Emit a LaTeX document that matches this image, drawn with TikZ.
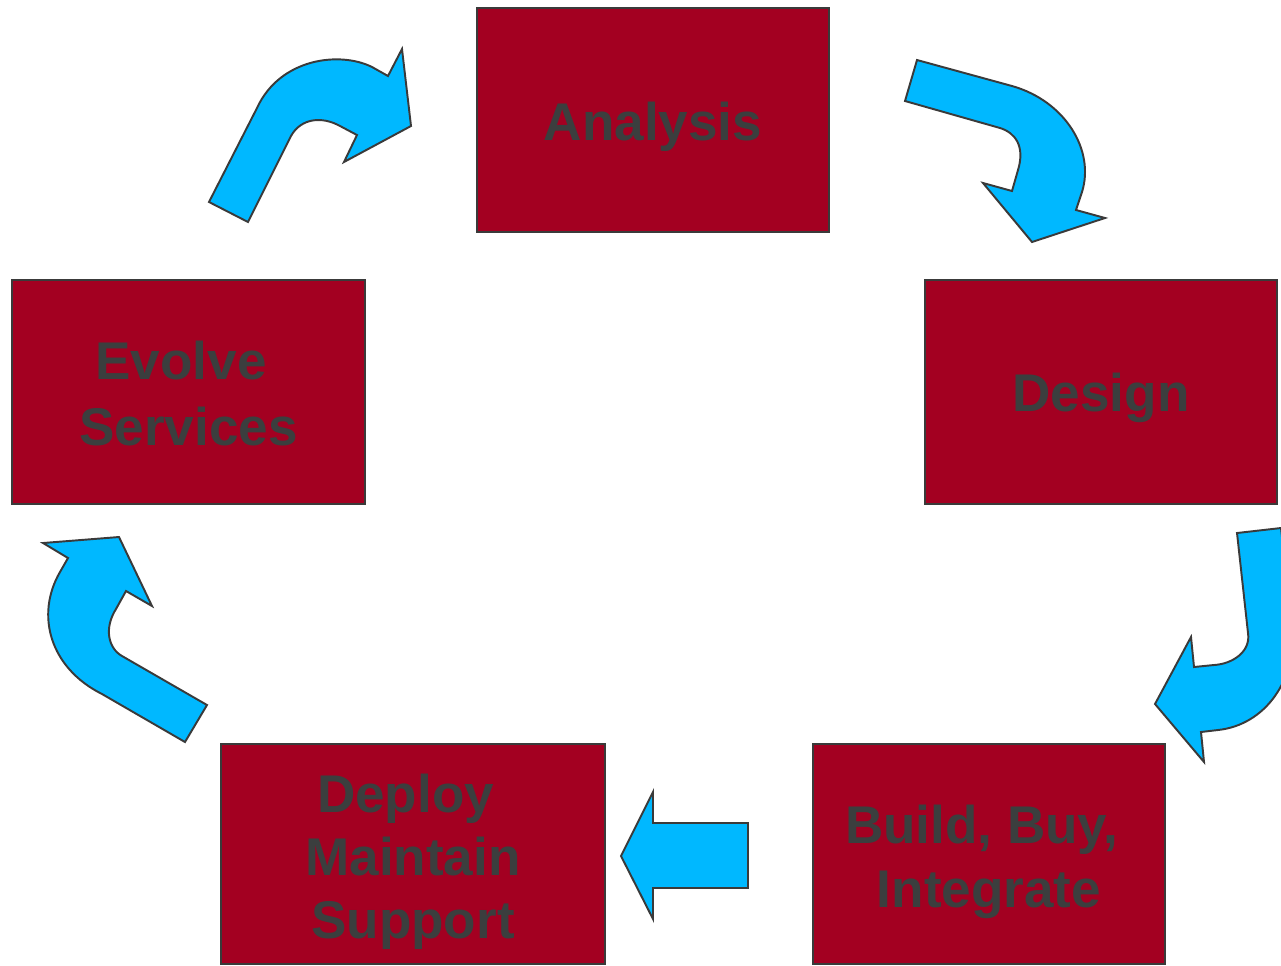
\documentclass[tikz,border=0pt]{standalone}
\usepackage{fontspec}
\setmainfont{Liberation Sans}
\definecolor{stagered}{HTML}{A30021}
\definecolor{edgegray}{HTML}{3A3A3A}
\definecolor{labelgray}{HTML}{3B3E3E}
\definecolor{flowblue}{HTML}{00B8FF}
\begin{document}
\begin{tikzpicture}[x=0.02cm,y=-0.02cm,
  stage/.style={rectangle, draw=edgegray, line width=1.2pt, fill=stagered,
    inner sep=0pt},
  stagetext/.style={text=labelgray, font=\fontsize{30.2}{36}\selectfont\bfseries,
    align=center, inner sep=0pt},
  flow/.style={draw=edgegray, line width=1.1pt, fill=flowblue, line join=miter}]
\useasboundingbox (0,0) rectangle (1281,965);
\clip (0,0) rectangle (1281,965);

% process stages
\node[stage, minimum width=7.04cm, minimum height=4.48cm] (analysis) at (653,120) {};
\node[stage, minimum width=7.04cm, minimum height=4.48cm] (design) at (1101,392) {};
\node[stage, minimum width=7.04cm, minimum height=4.40cm] (build) at (989,854) {};
\node[stage, minimum width=7.68cm, minimum height=4.40cm] (deploy) at (413,854) {};
\node[stage, minimum width=7.06cm, minimum height=4.48cm] (evolve) at (188.5,392) {};

% stage captions
\node[stagetext] (analysistext) at ([yshift=-0.14cm]analysis.center) {Analysis};
\node[stagetext] (designtext) at ([yshift=-0.12cm]design.center) {Design};
\node[stagetext] (buildtext) at ([yshift=-0.16cm]build.center)
  {Build, Buy,\hspace*{0.278em}\\Integrate};
\node[stagetext] (deploytext) at ([yshift=-0.16cm]deploy.center)
  {Deploy\hspace*{0.278em}\\Maintain\\Support};
\node[stagetext, font=\fontsize{30.2}{37.5}\selectfont\bfseries] (evolvetext)
  at ([yshift=-0.03cm]evolve.center) {Evolve\hspace*{0.278em}\\Services};

% curved block arrows between the stages
% evolve -> analysis
\draw[flow] (209,202) -- (248,222) -- (291,136)
  .. controls (301,118) and (322,116) .. (340,126) -- (357,135) -- (344,162)
  -- (411,126) -- (402,49) -- (388,76) -- (372,67)
  .. controls (340,51) and (280,58) .. (257,108) -- cycle;
% analysis -> design
\draw[flow] (917,60) -- (1012,86)
  .. controls (1065,101) and (1095,150) .. (1082,192) -- (1076,210) -- (1105,218)
  -- (1032,242) -- (983,183) -- (1012,191) -- (1018,170)
  .. controls (1025,147) and (1016,133) .. (1000,128) -- (905,101) -- cycle;
% design -> build
\draw[flow] (1237,533) -- (1248,633)
  .. controls (1251,652) and (1232,664) .. (1214,665) -- (1194,667) -- (1191,637)
  -- (1155,704) -- (1204,762) -- (1201,732) -- (1218,730)
  .. controls (1265,725) and (1297,680) .. (1292,628) -- (1281,528) -- cycle;
% build -> deploy
\draw[flow] (621,856) -- (653,792) -- (653,823) -- (748,823) -- (748,888)
  -- (653,888) -- (653,919) -- cycle;
% deploy -> evolve
\draw[flow] (207,705) -- (122,656)
  .. controls (108,648) and (104,628) .. (116,609) -- (126,591) -- (152,606)
  -- (119,537) -- (43,543) -- (68,558) -- (60,572)
  .. controls (35,615) and (50,668) .. (102,694) -- (185,742) -- cycle;
\end{tikzpicture}
\end{document}
